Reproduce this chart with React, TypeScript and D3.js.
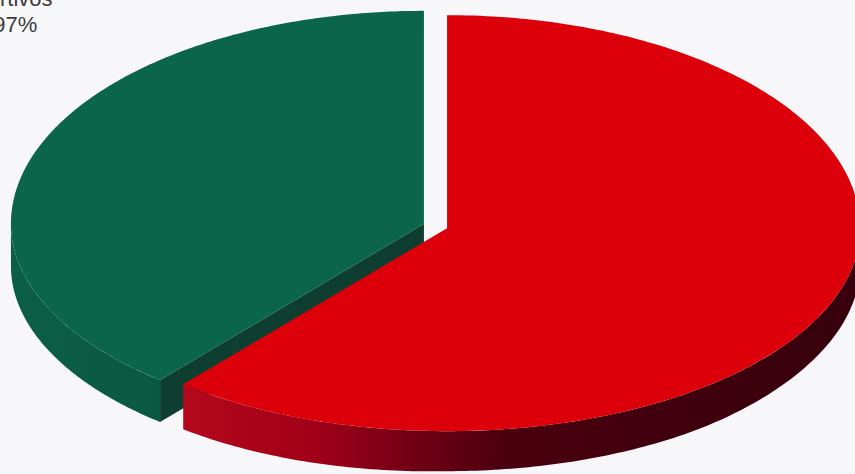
import React from "react";
import * as d3 from "d3";

// Data
const categories = ["No deportivos", "Deportivos"];
const shares = [61.03, 38.97];
const labelLines = ["Deportivos", "38,97%"];
const topColors = ["#db0009", "#0b654a"];

const W = 855;
const H = 474;
const cx0 = 435.5;
const cy0 = 226;
const rx = 413;
const ryUp = 213;
const ryDown = 203;
const explode = 12.3;

const redDepth = d3.scaleLinear().domain([180, 450, 700, 860]).range([45, 40, 40, 37]).clamp(true);
const greenDepth = () => 42;

type P = [number, number];

function pt(cx: number, cy: number, a: number): P {
  const c = Math.cos(a);
  const r = c > 0 ? ryUp : ryDown;
  return [cx + rx * Math.sin(a), cy - r * c];
}

export default function App() {
  const arcs = d3
    .pie<number>()
    .sort(null)
    .value((d) => d)(shares);

  const line = d3.line<P>();

  const slices = arcs.map((arc, i) => {
    const depthAt = i === 0 ? (x: number) => redDepth(x) : greenDepth;
    const a0 = arc.startAngle;
    const a1 = arc.endAngle;
    const mid = (a0 + a1) / 2;
    const cx = cx0 + explode * Math.sin(mid);
    const cy = cy0 - explode * Math.cos(mid) * (ryUp / rx);
    const p0 = pt(cx, cy, a0);

    const nTop = 240;
    const rim = d3.range(nTop + 1).map((k) => pt(cx, cy, a0 + ((a1 - a0) * k) / nTop));
    const top = line([[cx, cy], ...rim]) + "Z";

    // curved side (front half only)
    const s = Math.max(a0, Math.PI / 2);
    const e = Math.min(a1, (3 * Math.PI) / 2);
    let side: string | null = null;
    if (s < e) {
      const n = 160;
      const angles = d3.range(n + 1).map((k) => s + ((e - s) * k) / n);
      const upper = angles.map((a) => pt(cx, cy, a));
      const lower = upper
        .slice()
        .reverse()
        .map(([x, y]) => [x, y + depthAt(x)] as P);
      side = line([...upper, ...lower]) + "Z";
    }

    // radial face at start angle, visible if it faces the viewer (down-right)
    let face: string | null = null;
    if (a0 > Math.PI && a0 < 2 * Math.PI) {
      const pts: P[] = [
        [cx, cy],
        p0,
        [p0[0], p0[1] + depthAt(p0[0])],
        [cx, cy + depthAt(cx)],
      ];
      face = line(pts) + "Z";
    }
    return { i, top, side, face };
  });

  const red = slices[0];
  const green = slices[1];

  return (
    <div style={{ position: "fixed", left: 0, top: 0, width: W, height: H }}>
      <svg width={W} height={H} style={{ display: "block" }}>
        <defs>
          <linearGradient id="redSide" gradientUnits="userSpaceOnUse" x1={180} y1={0} x2={860} y2={0}>
            <stop offset="0" stopColor="#b4081c" />
            <stop offset="0.2" stopColor="#a00018" />
            <stop offset="0.34" stopColor="#720014" />
            <stop offset="0.48" stopColor="#4a000f" />
            <stop offset="1" stopColor="#36000c" />
          </linearGradient>
          <linearGradient id="greenSide" gradientUnits="userSpaceOnUse" x1={10} y1={0} x2={170} y2={0}>
            <stop offset="0" stopColor="#0b5f45" />
            <stop offset="1" stopColor="#0a5840" />
          </linearGradient>
        </defs>
        <rect x={0} y={0} width={W} height={H} fill="#f7f7fa" />

        {/* green slice */}
        {green.face && <path d={green.face} fill="#0d3e2f" />}
        {green.side && <path d={green.side} fill="url(#greenSide)" />}
        <path d={green.top} fill={topColors[1]} />

        {/* red slice */}
        {red.side && <path d={red.side} fill="url(#redSide)" />}
        <path d={red.top} fill={topColors[0]} />

        <text
          fontFamily="Liberation Sans, Arial, sans-serif"
          fontSize={22}
          fill="#3c3c3c"
          textAnchor="middle"
        >
          <tspan x={0} y={6}>{labelLines[0]}</tspan>
          <tspan x={0} y={31.5}>{labelLines[1]}</tspan>
        </text>
        <title>{categories.join(" / ")}</title>
      </svg>
    </div>
  );
}
